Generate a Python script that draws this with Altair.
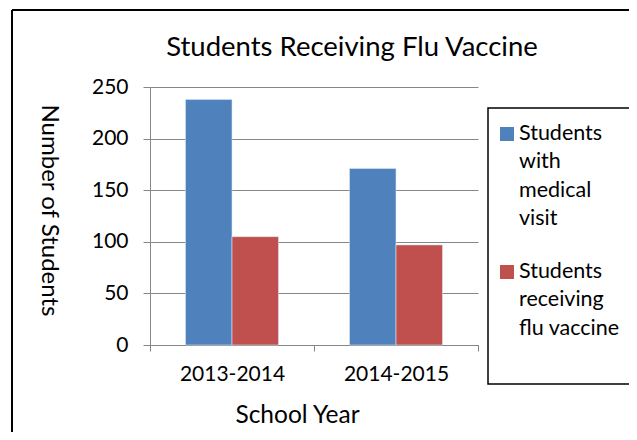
import altair as alt
import pandas as pd

# ---- data ----
years = ["2013-2014", "2014-2015"]
series = ["Students with medical visit", "Students receiving flu vaccine"]
medical_visit = [238, 171]
flu_vaccine = [105, 97]
colors = ["#4F81BD", "#C0504D"]
legend_lines = [["Students", "with", "medical", "visit"],
                ["Students", "receiving", "flu vaccine"]]
y_ticks = [0, 50, 100, 150, 200, 250]
chart_title = "Students Receiving Flu Vaccine"
x_title = "School Year"
y_title = "Number of Students"

FONT = "Lato"
GRAY = "#868686"

df = pd.DataFrame({
    "year": years * 2,
    "series": [series[0]] * len(years) + [series[1]] * len(years),
    "value": medical_visit + flu_vaccine,
})

W, H = 328, 258

bars = alt.Chart(df).mark_bar(stroke="#dbe5f1", strokeWidth=0.6).encode(
    x=alt.X("year:N", sort=years,
            scale=alt.Scale(paddingInner=0, paddingOuter=0),
            axis=alt.Axis(title=x_title, labelAngle=0, labelFont=FONT, labelFontSize=21,
                          labelColor="black", tickBand="extent", tickSize=6,
                          tickColor=GRAY, domainColor=GRAY, labelPadding=12,
                          titleFont=FONT, titleFontSize=24.5, titleFontWeight="normal",
                          titleColor="black", titleX=147, titleY=70,
                          titleAlign="center", titleBaseline="middle")),
    xOffset=alt.XOffset("series:N", sort=series,
                        scale=alt.Scale(paddingOuter=0.763, paddingInner=0)),
    y=alt.Y("value:Q", scale=alt.Scale(domain=[0, 250], nice=False),
            axis=alt.Axis(title=y_title, values=y_ticks, labelFont=FONT, labelFontSize=21,
                          labelColor="black", tickSize=7, tickColor=GRAY, domainColor=GRAY,
                          gridColor=GRAY, gridWidth=1.2, labelPadding=15,
                          titleFont=FONT, titleFontSize=24, titleFontWeight="normal",
                          titleColor="black", titleAngle=90, titleX=-102, titleY=123,
                          titleAlign="center", titleBaseline="middle")),
    color=alt.Color("series:N", scale=alt.Scale(domain=series, range=colors), legend=None),
)

one = pd.DataFrame({"t": [chart_title]})

title_layer = alt.Chart(one).mark_text(font=FONT, fontSize=27.5, color="black",
                                       align="center", baseline="middle").encode(
    x=alt.value(202), y=alt.value(-39), text="t:N")

frame_v = alt.Chart(one).mark_rule(color="black", strokeWidth=2).encode(
    x=alt.value(-138), y=alt.value(-77), y2=alt.value(360))
frame_h = alt.Chart(one).mark_rule(color="black", strokeWidth=2).encode(
    x=alt.value(-138), x2=alt.value(495), y=alt.value(-77))

legend_box = alt.Chart(one).mark_rect(fill="white", stroke="black", strokeWidth=1.5).encode(
    x=alt.value(338), x2=alt.value(482), y=alt.value(21), y2=alt.value(297))

layers = [bars, title_layer, frame_v, frame_h, legend_box]
for i, s in enumerate(series):
    ldf = pd.DataFrame({"series": [s], "lines": [legend_lines[i]]})
    yy = 47 + i * 138
    layers.append(alt.Chart(ldf).mark_square(size=196, opacity=1).encode(
        x=alt.value(357), y=alt.value(yy),
        color=alt.Color("series:N", scale=alt.Scale(domain=series, range=colors), legend=None)))
    layers.append(alt.Chart(ldf).mark_text(font=FONT, fontSize=21.5, color="black", align="left",
                                           baseline="middle", lineHeight=28.4).encode(
        x=alt.value(369), y=alt.value(yy), text="lines"))

chart = alt.layer(*layers).properties(
    width=W, height=H,
    autosize=alt.AutoSizeParams(type="none"),
    padding={"left": 142, "top": 79, "right": 151, "bottom": 87},
).configure_view(stroke=None).configure_axisY(domain=True).configure_axisX(grid=False)

chart.save("out.html", embed_options={"renderer": "svg", "actions": False})
